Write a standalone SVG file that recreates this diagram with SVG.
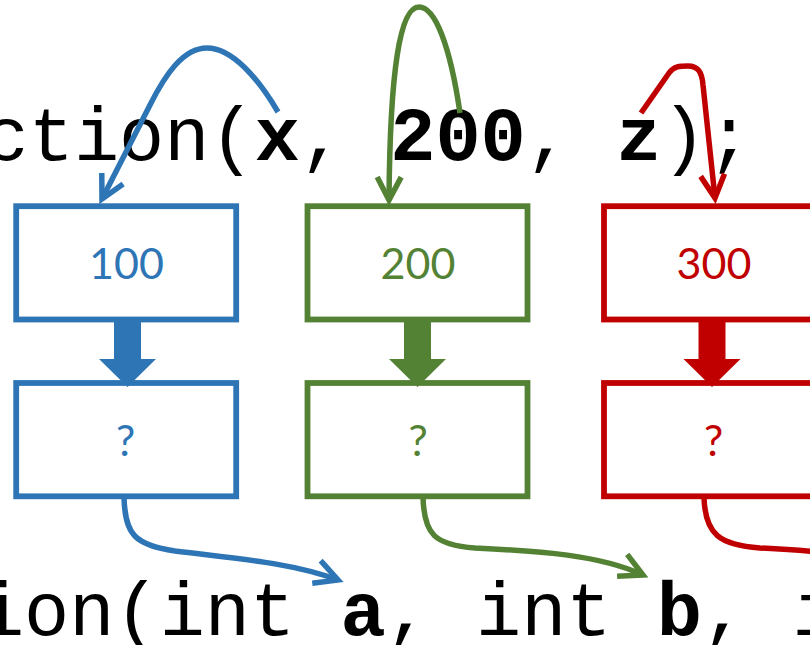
<svg xmlns="http://www.w3.org/2000/svg" width="810" height="645" viewBox="0 0 810 645">
  <style>
    .code { font-family: "Liberation Mono", "Courier New", monospace; font-size: 75.3px; fill: #000; }
    .b { font-weight: bold; }
    .box { fill: #fff; stroke-width: 5.8; }
    .val { font-family: Lato, "Open Sans", sans-serif; font-size: 43px; text-anchor: middle; }
    .conn { fill: none; stroke-width: 5.5; }
    .blue { stroke: #2E75B6; }
    .green { stroke: #548235; }
    .red { stroke: #C00000; }
    .tblue { fill: #2E75B6; }
    .tgreen { fill: #548235; }
    .tred { fill: #C00000; }
  </style>
  <defs>
    <marker id="ab" markerUnits="userSpaceOnUse" orient="auto" refX="0" refY="0" markerWidth="60" markerHeight="60" viewBox="-30 -30 60 60" overflow="visible">
      <path d="M-23,-12 L0,0 L-23,12" fill="none" stroke="#2E75B6" stroke-width="5.5"/>
    </marker>
    <marker id="ag" markerUnits="userSpaceOnUse" orient="auto" refX="0" refY="0" markerWidth="60" markerHeight="60" viewBox="-30 -30 60 60" overflow="visible">
      <path d="M-23,-12 L0,0 L-23,12" fill="none" stroke="#548235" stroke-width="5.5"/>
    </marker>
    <marker id="ar" markerUnits="userSpaceOnUse" orient="auto" refX="0" refY="0" markerWidth="60" markerHeight="60" viewBox="-30 -30 60 60" overflow="visible">
      <path d="M-23,-12 L0,0 L-23,12" fill="none" stroke="#C00000" stroke-width="5.5"/>
    </marker>
  </defs>

  <g id="code-call">
    <text class="code" x="-152" y="160">function(<tspan class="b">x</tspan>, <tspan class="b">200</tspan>, <tspan class="b">z</tspan>);</text>
  </g>
  <g id="code-def">
    <text class="code" x="-247" y="635">function(int <tspan class="b">a</tspan>, int <tspan class="b">b</tspan>, int <tspan class="b">c</tspan>);</text>
  </g>

  <g id="blue-top">
    <rect class="box blue" x="16.2" y="206.2" width="220" height="113.3"/>
    <text class="val tblue" x="126.5" y="279">100</text>
  </g>
  <g id="blue-bottom">
    <rect class="box blue" x="16.2" y="383" width="220" height="113.3"/>
    <text class="val tblue" x="125.5" y="456">?</text>
  </g>
  <g id="green-top">
    <rect class="box green" x="307.5" y="206.2" width="220" height="113.3"/>
    <text class="val tgreen" x="418" y="279">200</text>
  </g>
  <g id="green-bottom">
    <rect class="box green" x="307.5" y="383" width="220" height="113.3"/>
    <text class="val tgreen" x="418" y="456">?</text>
  </g>
  <g id="red-top">
    <rect class="box red" x="604" y="206.2" width="220" height="113.3"/>
    <text class="val tred" x="714" y="279">300</text>
  </g>
  <g id="red-bottom">
    <rect class="box red" x="604" y="383" width="220" height="113.3"/>
    <text class="val tred" x="713.5" y="456">?</text>
  </g>

  <g id="connectors">
    <polygon class="tblue" points="114,319 141,319 141,359 156,359 127.5,387 99,359 114,359"/>
    <polygon class="tgreen" points="404,319 431,319 431,359 446,359 417.5,387 389,359 404,359"/>
    <polygon class="tred" points="698.5,319 725.5,319 725.5,359 740.5,359 712,387 683.5,359 698.5,359"/>

    <path class="conn blue" d="M278,112 C258,78 232,48 207,48 C183,48 165,75 150,105 L102,199" marker-end="url(#ab)"/>
    <path class="conn green" d="M460,113 C450,45 435,7 419,7 C400,7 390,70 389,200" marker-end="url(#ag)"/>
    <path class="conn red" d="M641,113 L669,73 C674,66 680,66 688,66 C698,66 702,72 703,85 L715,198" marker-end="url(#ar)"/>

    <path class="conn blue" d="M124,497 C125,535 135,545 175,551 C230,558 290,562 338,580" marker-end="url(#ab)"/>
    <path class="conn green" d="M423,497 C424,535 435,545 475,548 C540,551 600,555 643,575" marker-end="url(#ag)"/>
    <path class="conn red" d="M704,497 C705,535 720,545 760,548 C820,551 880,555 924,575" marker-end="url(#ar)"/>
  </g>
</svg>
